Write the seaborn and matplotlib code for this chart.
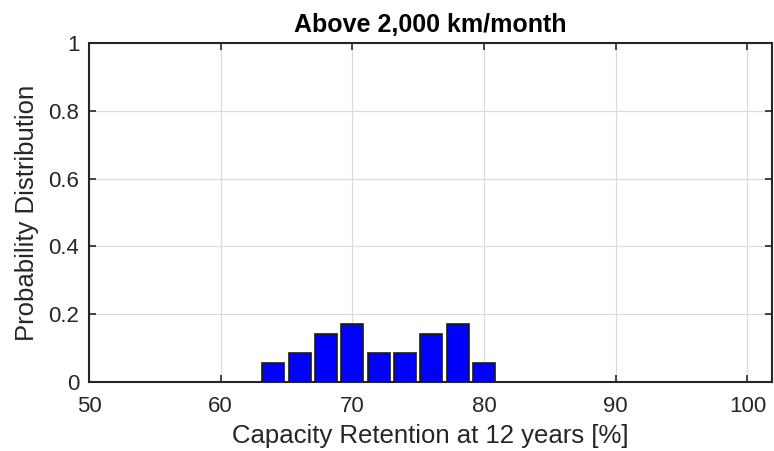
import numpy as np
import pandas as pd
import matplotlib
matplotlib.use('Agg')
import matplotlib.pyplot as plt
import seaborn as sns

# bin centres (%) and probability of each bin
retention = [64, 66, 68, 70, 72, 74, 76, 78, 80]
probability = [2/35, 3/35, 5/35, 6/35, 3/35, 3/35, 5/35, 6/35, 2/35]
x_ticks = [50, 60, 70, 80, 90, 100]
y_ticks = [0, 0.2, 0.4, 0.6, 0.8, 1]
y_tick_labels = ['0', '0.2', '0.4', '0.6', '0.8', '1']

sns.set_theme(style='white')
plt.rcParams['font.family'] = ['Liberation Sans', 'DejaVu Sans']

df = pd.DataFrame({'x': retention, 'p': probability})

fig = plt.figure(figsize=(7.74, 4.51), dpi=100)
ax = fig.add_axes([0.115, 0.153, 0.883, 0.752])
sns.barplot(data=df, x='x', y='p', native_scale=True, width=0.83,
            color='#0000ff', saturation=1, edgecolor='#1a1a1a', linewidth=1.2, ax=ax, zorder=3)

ax.set_xlim(50, 101.9)
ax.set_ylim(0, 1)
ax.set_xticks(x_ticks)
ax.set_yticks(y_ticks)
ax.set_yticklabels(y_tick_labels)
ax.grid(True, color='#dcdcdc', linewidth=0.9, zorder=0)
ax.set_axisbelow(True)
ax.tick_params(direction='in', length=5, width=1.2, colors='#262626', labelsize=16,
               top=True, right=True, bottom=True, left=True)
ax.tick_params(axis='x', pad=10)
ax.tick_params(axis='y', pad=7)
for t in ax.get_xticklabels() + ax.get_yticklabels():
    t.set_color('#262626')
for s in ax.spines.values():
    s.set_color('#262626')
    s.set_linewidth(1.5)

ax.set_xlabel('Capacity Retention at 12 years [%]', fontsize=18.5, color='#262626', labelpad=5)
ax.set_ylabel('Probability Distribution', fontsize=18.5, color='#262626', labelpad=7)
ax.set_title('Above 2,000 km/month', fontsize=18, fontweight='bold', color='black', pad=8)

fig.savefig('out.png', dpi=100)
